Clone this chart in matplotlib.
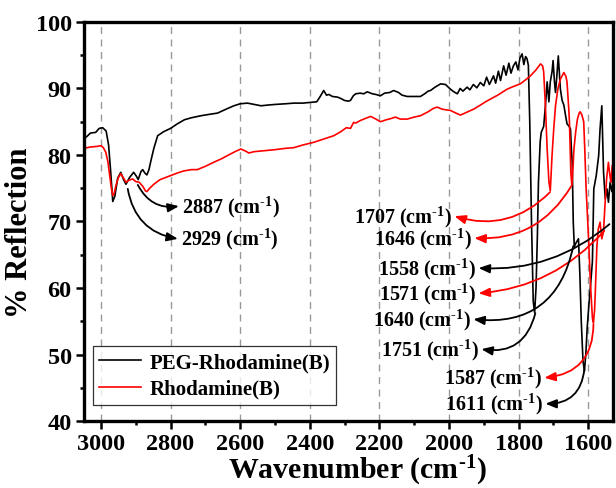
import matplotlib
matplotlib.use("Agg")
import matplotlib.pyplot as plt
from matplotlib.ticker import MultipleLocator

plt.rcParams['font.family'] = ['Liberation Serif', 'DejaVu Serif']
plt.rcParams['font.weight'] = 'bold'
plt.rcParams['mathtext.fontset'] = 'custom'
plt.rcParams['mathtext.rm'] = 'Liberation Serif:bold'
plt.rcParams['mathtext.it'] = 'Liberation Serif:bold'
plt.rcParams['mathtext.bf'] = 'Liberation Serif:bold'

# ---------------- data ----------------
peg_wn = [3050, 3040, 3030, 3015, 3005, 2995, 2985, 2978, 2972, 2966, 2960, 2952, 2943, 2935, 2928,
          2918, 2906, 2898, 2893, 2885, 2880, 2874, 2868, 2862, 2857, 2848, 2837, 2820, 2800, 2780,
          2760, 2740, 2713, 2690, 2665, 2640, 2618, 2600, 2579, 2560, 2540, 2522, 2500, 2470, 2446,
          2420, 2400, 2380, 2370, 2360, 2352, 2345, 2335, 2320, 2311, 2300, 2290, 2283, 2275, 2268,
          2255, 2245, 2235, 2220, 2210, 2197, 2185, 2170, 2159, 2145, 2135, 2120, 2100, 2082, 2070,
          2060, 2053, 2040, 2024, 2010, 1996, 1986, 1976, 1968, 1960, 1948, 1940, 1930, 1920, 1910,
          1900, 1892, 1884, 1872, 1866, 1858, 1852, 1843, 1836, 1828, 1822, 1815, 1808, 1802, 1796,
          1790, 1785, 1780, 1776, 1772, 1768, 1763, 1758, 1754, 1750, 1746, 1743, 1738, 1735, 1728,
          1723, 1718, 1713, 1709, 1704, 1701, 1697, 1694, 1690, 1686, 1682, 1680, 1675, 1670, 1666,
          1661, 1655, 1651, 1648, 1646, 1643, 1640, 1635, 1628, 1624, 1620, 1615, 1611, 1607, 1603,
          1598, 1594, 1588, 1584, 1577, 1570, 1566, 1561, 1556, 1551, 1546, 1542, 1537, 1532, 1528]
peg_r = [82.4, 82.8, 83.3, 83.4, 84.0, 84.1, 83.6, 81.5, 77.5, 73.0, 73.8, 76.5, 77.4, 76.3, 75.6,
         76.6, 77.4, 76.8, 76.3, 77.5, 77.8, 77.3, 77.0, 77.8, 79.0, 81.0, 82.9, 83.5, 84.0, 84.7,
         85.3, 85.6, 85.9, 86.1, 86.3, 86.9, 87.4, 87.7, 87.8, 87.6, 87.4, 87.5, 87.6, 87.7, 87.8,
         87.8, 87.9, 88.0, 88.8, 89.7, 89.0, 89.1, 88.8, 88.7, 88.5, 88.2, 88.1, 88.2, 88.9, 89.2,
         89.3, 89.2, 89.5, 89.2, 89.1, 88.9, 89.3, 89.4, 89.7, 89.4, 89.0, 88.8, 88.8, 88.8, 89.2,
         89.6, 89.7, 90.2, 90.7, 90.6, 89.9, 89.5, 89.2, 90.0, 89.6, 90.2, 89.8, 90.6, 90.1, 90.9,
         90.4, 91.7, 90.6, 91.9, 90.8, 92.6, 91.2, 93.4, 92.0, 93.8, 92.3, 93.4, 94.0, 92.8, 94.6,
         95.2, 93.6, 94.8, 94.5, 93.5, 85.0, 70.0, 58.0, 56.3, 60.0, 68.0, 75.9, 82.0, 83.4, 84.3,
         87.4, 91.0, 88.0, 91.0, 92.5, 94.2, 91.0, 89.4, 92.0, 94.9, 91.5, 89.9, 88.2, 87.5, 86.2,
         84.7, 84.3, 83.9, 80.5, 78.9, 69.9, 66.2, 66.8, 67.4, 62.0, 55.0, 49.0, 47.5, 50.0, 54.0,
         57.5, 60.0, 64.0, 74.9, 76.9, 79.9, 83.9, 87.4, 77.4, 73.4, 74.9, 72.9, 75.9, 74.5, 76.0]

rb_wn = [3050, 3030, 3010, 3000, 2993, 2986, 2980, 2976, 2970, 2966, 2962, 2957, 2950, 2943, 2936,
         2928, 2920, 2909, 2900, 2890, 2880, 2872, 2868, 2860, 2848, 2830, 2800, 2780, 2762, 2740,
         2723, 2700, 2676, 2655, 2637, 2615, 2598, 2585, 2575, 2560, 2541, 2500, 2470, 2446, 2420,
         2389, 2360, 2331, 2311, 2295, 2283, 2274, 2268, 2254, 2240, 2225, 2210, 2197, 2180, 2165,
         2154, 2140, 2120, 2100, 2082, 2060, 2045, 2034, 2020, 2010, 1996, 1980, 1967, 1950, 1929,
         1910, 1895, 1881, 1860, 1845, 1833, 1815, 1795, 1780, 1766, 1750, 1737, 1731, 1728, 1723,
         1718, 1713, 1709, 1704, 1699, 1694, 1687, 1680, 1670, 1664, 1661, 1656, 1654, 1650, 1647,
         1644, 1641, 1636, 1631, 1626, 1623, 1618, 1613, 1610, 1606, 1599, 1594, 1588, 1585, 1582,
         1580, 1575, 1571, 1566, 1561, 1556, 1552, 1547, 1542, 1538, 1535, 1531]
rb_r = [81.0, 81.2, 81.3, 81.4, 81.1, 80.4, 79.0, 77.4, 75.0, 73.9, 74.2, 75.4, 76.6, 77.2, 76.6,
        75.9, 76.2, 76.4, 76.0, 75.9, 75.3, 74.6, 74.5, 75.0, 75.6, 76.3, 76.9, 77.3, 77.6, 77.8,
        77.8, 78.3, 78.9, 79.4, 79.9, 80.5, 80.9, 80.6, 80.3, 80.5, 80.6, 80.8, 81.0, 81.1, 81.5,
        81.9, 82.4, 82.9, 83.5, 84.1, 84.0, 84.9, 84.8, 85.2, 85.5, 85.8, 85.4, 85.0, 85.3, 85.5,
        85.7, 85.4, 85.4, 85.7, 85.9, 86.5, 87.0, 87.2, 86.9, 86.8, 86.7, 86.3, 86.0, 86.4, 86.9,
        87.5, 88.0, 88.4, 89.0, 89.5, 89.9, 90.3, 90.7, 91.3, 91.9, 92.8, 93.7, 93.4, 92.5, 87.4,
        80.9, 76.0, 74.6, 79.9, 84.0, 87.4, 90.0, 91.4, 92.4, 91.8, 91.0, 87.0, 85.0, 77.4, 75.4,
        78.0, 80.9, 83.5, 85.4, 86.3, 86.5, 86.0, 85.0, 81.0, 74.9, 67.4, 61.0, 55.5, 54.8, 56.5,
        58.9, 66.4, 68.9, 69.9, 67.4, 68.5, 72.4, 76.5, 78.9, 77.0, 75.9, 78.4]

series_names = ["PEG-Rhodamine(B)", "Rhodamine(B)"]
series_colors = ["black", "red"]

# annotations: label, arrow start (wn, R), arrow end (wn, R), colour, text side, curvature
ann_labels = ["2887", "2929", "1707", "1646", "1558", "1571", "1640", "1751", "1587", "1611"]
ann_start = [(2894, 75.5), (2923, 74.9), (1710, 74.4), (1649, 75.3), (1539, 69.6),
             (1554, 68.6), (1643, 66.3), (1752, 56.2), (1585, 54.6), (1611, 47.8)]
ann_end = [(2776, 72.3), (2779, 67.4), (1984, 70.8), (1927, 67.5), (1915, 63.0),
           (1915, 59.2), (1930, 55.3), (1907, 50.8), (1726, 46.5), (1723, 42.6)]
ann_colors = ["black", "black", "red", "red", "black", "red", "black", "black", "red", "black"]
ann_side = ["left", "left", "right", "right", "right", "right", "right", "right", "right", "right"]
ann_rad = [0.35, 0.35, -0.3, -0.3, -0.2, -0.2, -0.45, -0.45, -0.45, -0.45]

unit = " (cm$^{\\text{-}1}$)"

# ---------------- figure ----------------
fig = plt.figure(figsize=(6.16, 4.89), dpi=100)
ax = fig.add_axes([0.1356, 0.137, 0.8600, 0.816])

for wn, r, name, c in zip([peg_wn, rb_wn], [peg_r, rb_r], series_names, series_colors):
    ax.plot(wn, r, color=c, lw=1.2, label=name)

ax.set_xlim(3050, 1528)
ax.set_ylim(40, 100)
ax.xaxis.set_major_locator(MultipleLocator(200))
ax.xaxis.set_minor_locator(MultipleLocator(100))
ax.yaxis.set_major_locator(MultipleLocator(10))
ax.yaxis.set_minor_locator(MultipleLocator(5))
ax.grid(axis='x', which='major', color='#999999', ls=(0, (5, 4)), lw=1.0)

for s in ax.spines.values():
    s.set_linewidth(2.4)
ax.tick_params(which='major', direction='out', length=5.5, width=1.8, labelsize=17.5, pad=3)
ax.tick_params(which='minor', direction='out', length=3, width=1.8)
for lab in ax.get_xticklabels() + ax.get_yticklabels():
    lab.set_fontweight('bold')

ax.set_xlabel("Wavenumber" + unit, fontsize=21.5, fontweight='bold')
ax.xaxis.set_label_coords(0.517, -0.081)
ax.set_ylabel("% Reflection", fontsize=22, fontweight='bold')
ax.yaxis.set_label_coords(-0.093, 0.474)

for lab, st, en, c, side, rad in zip(ann_labels, ann_start, ann_end, ann_colors, ann_side, ann_rad):
    ax.annotate("", xy=en, xytext=st,
                arrowprops=dict(arrowstyle="-|>,head_length=0.55,head_width=0.22",
                                connectionstyle=f"arc3,rad={rad}", color=c, lw=1.3,
                                shrinkA=0, shrinkB=0, mutation_scale=12))
    if side == "left":
        tx = en[0] - 8
        ha = 'left'
    else:
        tx = en[0] + 7
        ha = 'right'
    ax.text(tx, en[1], lab + unit, ha=ha, va='center', fontsize=14.5, fontweight='bold')

leg = ax.legend(loc='lower left', bbox_to_anchor=(0.018, 0.04), fontsize=15, frameon=True,
                fancybox=False, edgecolor='black', handlelength=2.0, borderpad=0.3,
                labelspacing=0.3, handletextpad=0.4, borderaxespad=0)
leg.get_frame().set_linewidth(0.9)
for t in leg.get_texts():
    t.set_fontweight('bold')

fig.savefig("out.png", dpi=100)
